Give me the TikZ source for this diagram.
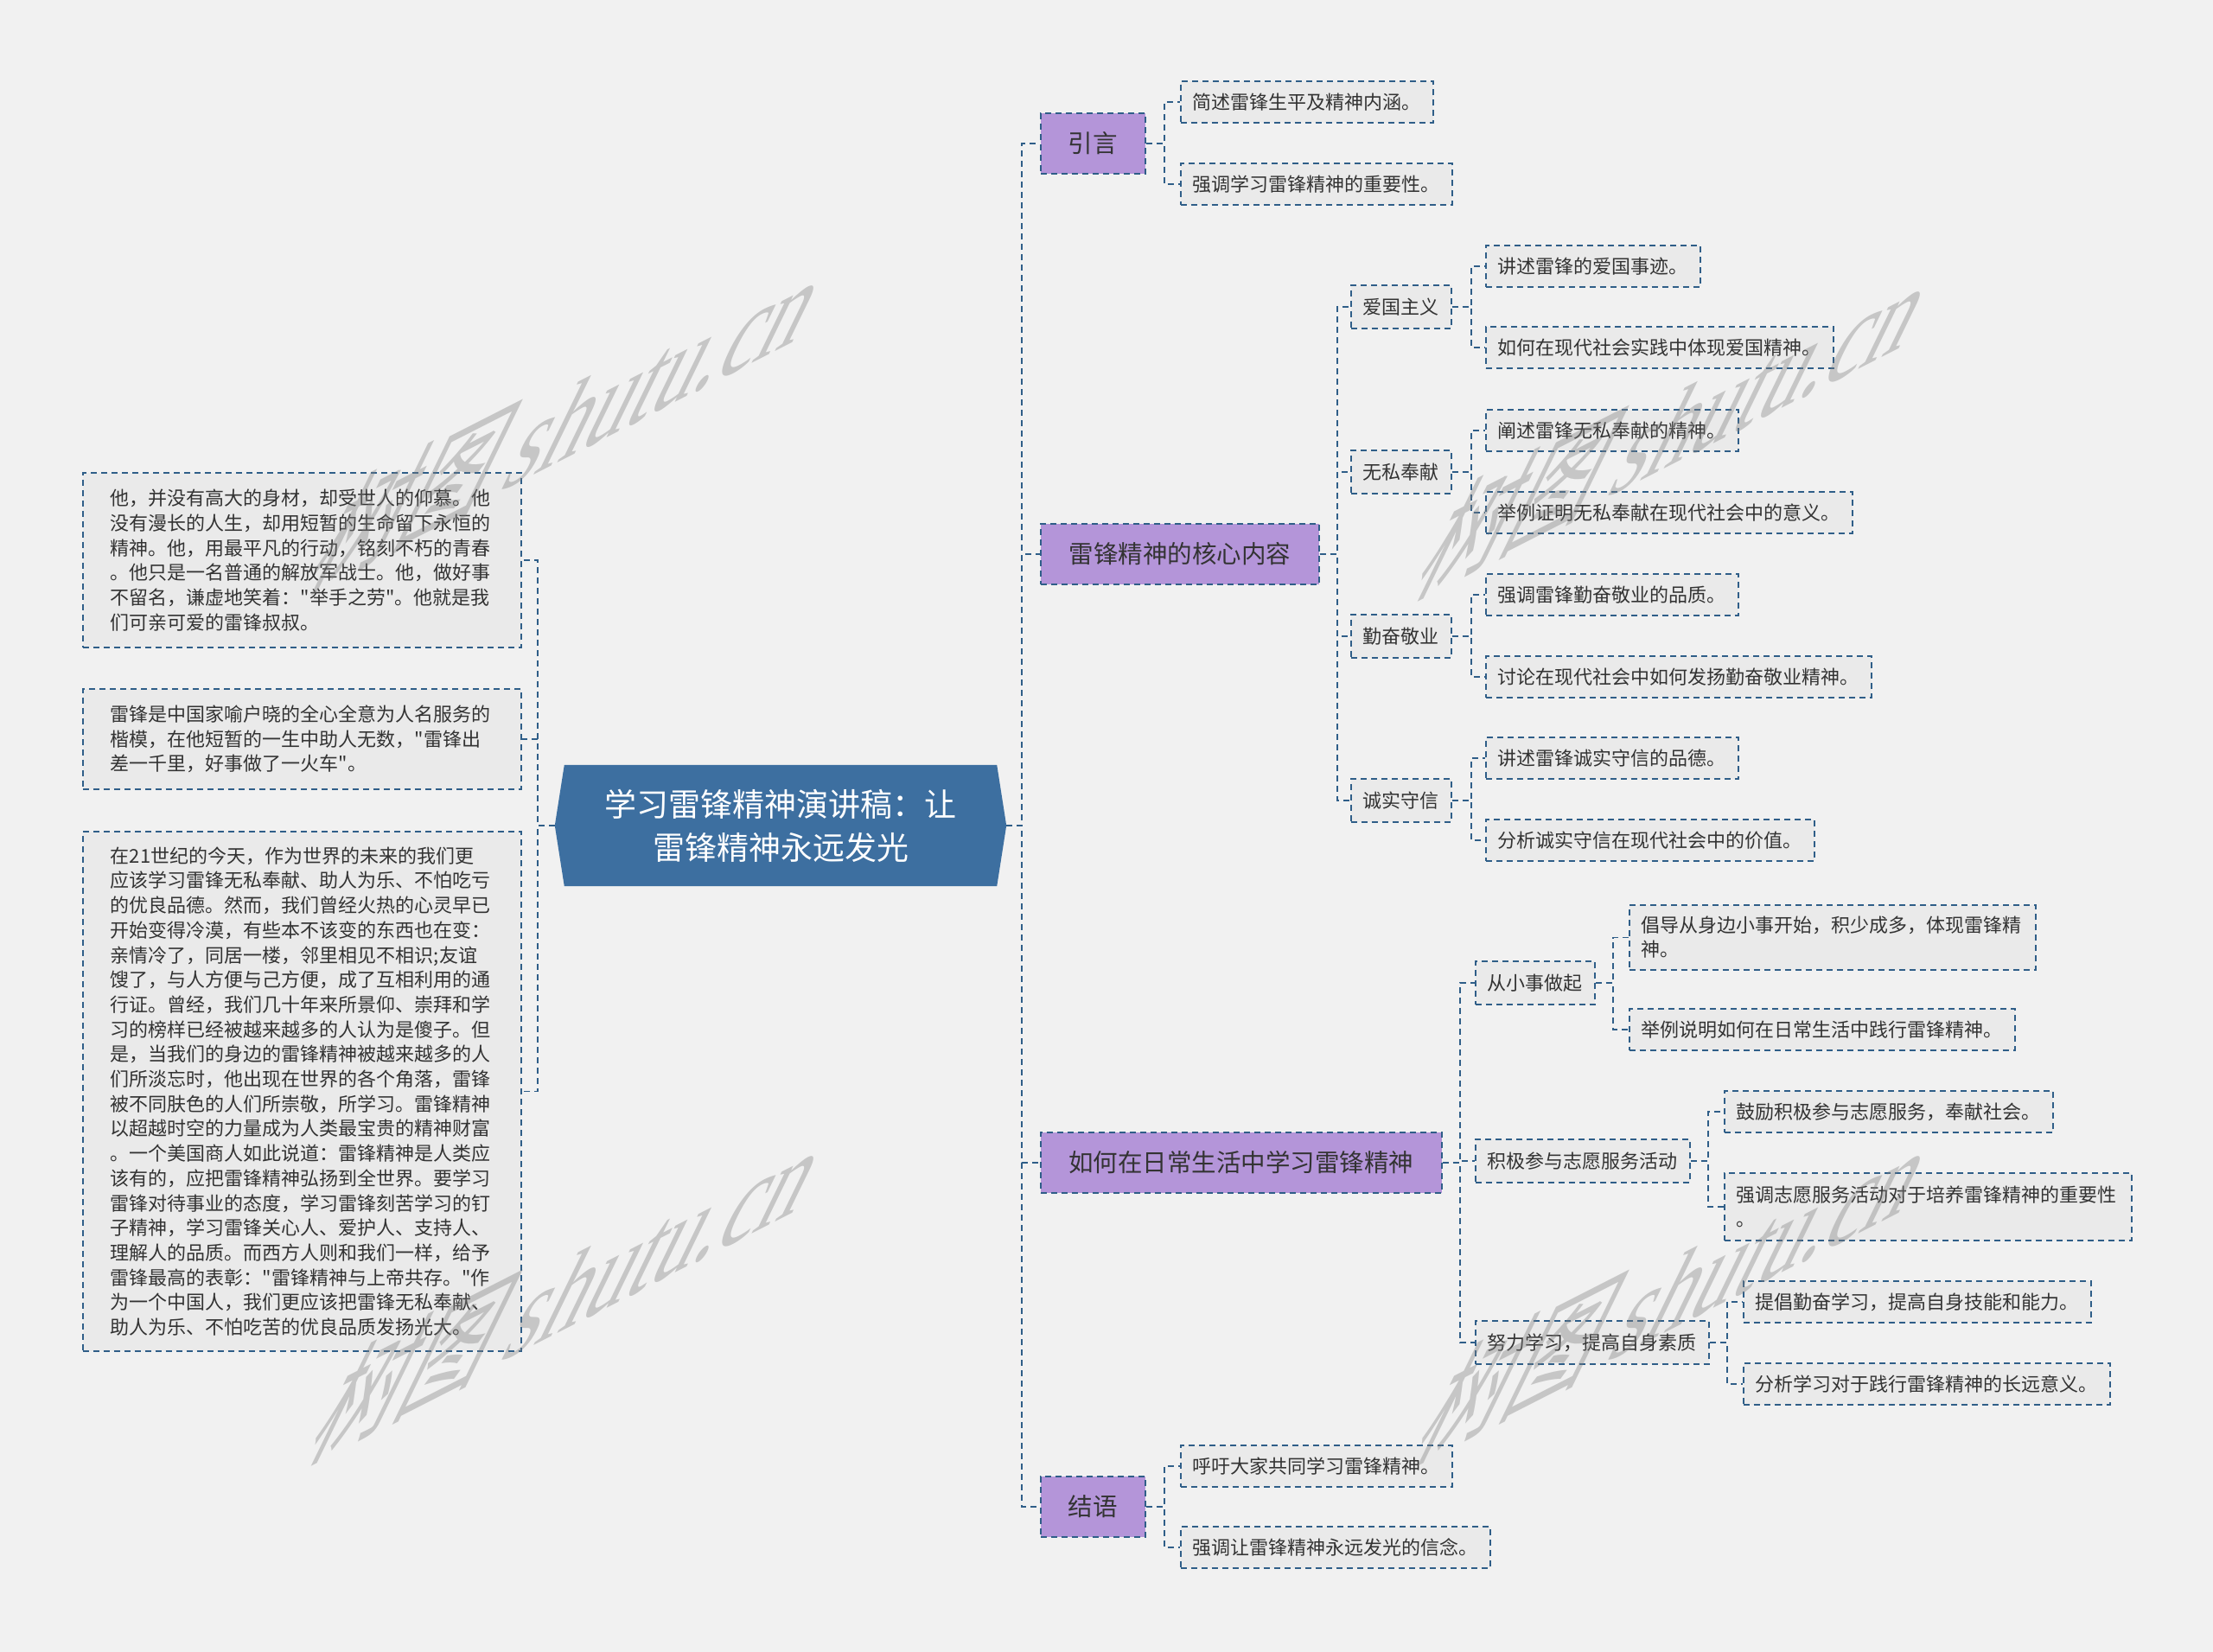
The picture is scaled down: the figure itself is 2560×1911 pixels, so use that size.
\documentclass[tikz,border=0pt]{standalone}
\usepackage{fontspec}
\newfontfamily\cjk{Noto Sans CJK SC}
\newfontfamily\wmfont{Liberation Serif}
\usetikzlibrary{calc,backgrounds}
\definecolor{bg}{HTML}{F1F1F1}
\definecolor{lc}{HTML}{2F5E88}
\definecolor{pur}{HTML}{B495D9}
\definecolor{leaf}{HTML}{EAEAEA}
\definecolor{ctr}{HTML}{3D6FA0}
\definecolor{tx}{HTML}{333333}
\begin{document}
\begin{tikzpicture}[x=1pt,y=-1pt,
  dsh/.style={draw=lc, line width=1.8pt, dash pattern=on 7pt off 5pt},
  conn/.style={dsh},
  topic/.style={dsh, fill=pur, text=tx, font=\cjk\fontsize{28.5}{34}\selectfont, inner sep=0pt, minimum height=70pt, anchor=west},
  sub/.style={dsh, fill=leaf, text=tx, font=\cjk\fontsize{22}{28}\selectfont, inner xsep=14pt, inner ysep=0pt, minimum height=50pt, anchor=west},
  leafbox/.style={dsh, fill=leaf, text=tx, font=\cjk\fontsize{22}{28}\selectfont, inner xsep=14pt, inner ysep=0pt, minimum height=48pt, anchor=west},
  para/.style={dsh, fill=leaf, text=tx, font=\cjk\fontsize{22}{28.7}\selectfont, inner xsep=32pt, inner ysep=0pt, text width=443pt, align=left, anchor=west},
  wm/.style={text=gray, opacity=0.38, anchor=base west, inner sep=0pt, cm={0.971,0.495,0.723,1.483,(0,0)}, font=\cjk\fontsize{105}{110}\selectfont}
]
\begin{pgfonlayer}{background}
\fill[bg] (0,0) rectangle (2560,1911);
\end{pgfonlayer}
\useasboundingbox (0,0) rectangle (2560,1911);

% centre
\node[minimum width=522pt, minimum height=140pt, text=white, font=\cjk\fontsize{37}{50}\selectfont, align=center, inner sep=0pt] (c) at (903,955) {学习雷锋精神演讲稿：让\\雷锋精神永远发光};
\begin{pgfonlayer}{background}
\fill[ctr] (c.west) -- ($(c.north west)+(11,0)$) -- ($(c.north east)+(-11,0)$) -- (c.east) -- ($(c.south east)+(-11,0)$) -- ($(c.south west)+(11,0)$) -- cycle;
\end{pgfonlayer}

% left paragraphs
\node[para, minimum height=202pt] (p1) at (95,648) {他，并没有高大的身材，却受世人的仰慕。他\\没有漫长的人生，却用短暂的生命留下永恒的\\精神。他，用最平凡的行动，铭刻不朽的青春\\。他只是一名普通的解放军战士。他，做好事\\不留名，谦虚地笑着："举手之劳"。他就是我\\们可亲可爱的雷锋叔叔。};
\node[para, minimum height=116pt] (p2) at (95,855) {雷锋是中国家喻户晓的全心全意为人名服务的\\楷模，在他短暂的一生中助人无数，"雷锋出\\差一千里，好事做了一火车"。};
\node[para, minimum height=601pt] (p3) at (95,1262.5) {在21世纪的今天，作为世界的未来的我们更\\应该学习雷锋无私奉献、助人为乐、不怕吃亏\\的优良品德。然而，我们曾经火热的心灵早已\\开始变得冷漠，有些本不该变的东西也在变：\\亲情冷了，同居一楼，邻里相见不相识;友谊\\馊了，与人方便与己方便，成了互相利用的通\\行证。曾经，我们几十年来所景仰、崇拜和学\\习的榜样已经被越来越多的人认为是傻子。但\\是，当我们的身边的雷锋精神被越来越多的人\\们所淡忘时，他出现在世界的各个角落，雷锋\\被不同肤色的人们所崇敬，所学习。雷锋精神\\以超越时空的力量成为人类最宝贵的精神财富\\。一个美国商人如此说道：雷锋精神是人类应\\该有的，应把雷锋精神弘扬到全世界。要学习\\雷锋对待事业的态度，学习雷锋刻苦学习的钉\\子精神，学习雷锋关心人、爱护人、支持人、\\理解人的品质。而西方人则和我们一样，给予\\雷锋最高的表彰："雷锋精神与上帝共存。"作\\为一个中国人，我们更应该把雷锋无私奉献、\\助人为乐、不怕吃苦的优良品质发扬光大。};

% topics
\node[topic, minimum width=121pt] (t1) at (1203,166) {引言};
\node[topic, minimum width=322pt] (t2) at (1203,641) {雷锋精神的核心内容};
\node[topic, minimum width=464pt] (t3) at (1203,1345) {如何在日常生活中学习雷锋精神};
\node[topic, minimum width=121pt] (t4) at (1203,1743) {结语};

% t1 leaves
\node[leafbox] (a1) at (1365,118) {简述雷锋生平及精神内涵。};
\node[leafbox] (a2) at (1365,213) {强调学习雷锋精神的重要性。};

% t2 subs
\node[sub] (s1) at (1562,355) {爱国主义};
\node[sub] (s2) at (1562,546) {无私奉献};
\node[sub] (s3) at (1562,736) {勤奋敬业};
\node[sub] (s4) at (1562,926) {诚实守信};
\node[leafbox] (b1) at (1718,308) {讲述雷锋的爱国事迹。};
\node[leafbox] (b2) at (1718,402) {如何在现代社会实践中体现爱国精神。};
\node[leafbox] (b3) at (1718,498) {阐述雷锋无私奉献的精神。};
\node[leafbox] (b4) at (1718,593) {举例证明无私奉献在现代社会中的意义。};
\node[leafbox] (b5) at (1718,688) {强调雷锋勤奋敬业的品质。};
\node[leafbox] (b6) at (1718,783) {讨论在现代社会中如何发扬勤奋敬业精神。};
\node[leafbox] (b7) at (1718,877) {讲述雷锋诚实守信的品德。};
\node[leafbox] (b8) at (1718,972) {分析诚实守信在现代社会中的价值。};

% t3 subs
\node[sub] (u1) at (1706,1137) {从小事做起};
\node[sub] (u2) at (1706,1343) {积极参与志愿服务活动};
\node[sub] (u3) at (1706,1553) {努力学习，提高自身素质};
\node[leafbox, text width=442pt, align=left, minimum height=75pt] (d1) at (1884,1084.5) {倡导从身边小事开始，积少成多，体现雷锋精\\神。};
\node[leafbox] (d2) at (1884,1191) {举例说明如何在日常生活中践行雷锋精神。};
\node[leafbox] (d3) at (1994,1286) {鼓励积极参与志愿服务，奉献社会。};
\node[leafbox, text width=443pt, align=left, minimum height=78pt] (d4) at (1994,1396) {强调志愿服务活动对于培养雷锋精神的重要性\\。};
\node[leafbox] (d5) at (2016,1506) {提倡勤奋学习，提高自身技能和能力。};
\node[leafbox] (d6) at (2016,1601) {分析学习对于践行雷锋精神的长远意义。};

% t4 leaves
\node[leafbox] (e1) at (1365,1696) {呼吁大家共同学习雷锋精神。};
\node[leafbox] (e2) at (1365,1790) {强调让雷锋精神永远发光的信念。};

% connectors
\foreach \t in {t1,t2,t3,t4} \draw[conn] (c.east) -- ++(18,0) |- (\t.west);
\foreach \p in {p1,p2,p3} \draw[conn] (c.west) -- ++(-20,0) |- (\p.east);
\foreach \l in {a1,a2} \draw[conn] (t1.east) -- ++(21,0) |- (\l.west);
\foreach \l in {s1,s2,s3,s4} \draw[conn] (t2.east) -- ++(20,0) |- (\l.west);
\foreach \l in {b1,b2} \draw[conn] (s1.east) -- ++(22,0) |- (\l.west);
\foreach \l in {b3,b4} \draw[conn] (s2.east) -- ++(22,0) |- (\l.west);
\foreach \l in {b5,b6} \draw[conn] (s3.east) -- ++(22,0) |- (\l.west);
\foreach \l in {b7,b8} \draw[conn] (s4.east) -- ++(22,0) |- (\l.west);
\foreach \l in {u1,u2,u3} \draw[conn] (t3.east) -- ++(20,0) |- (\l.west);
\foreach \l in {d1,d2} \draw[conn] (u1.east) -- ++(20,0) |- (\l.west);
\foreach \l in {d3,d4} \draw[conn] (u2.east) -- ++(20,0) |- (\l.west);
\foreach \l in {d5,d6} \draw[conn] (u3.east) -- ++(20,0) |- (\l.west);
\foreach \l in {e1,e2} \draw[conn] (t4.east) -- ++(21,0) |- (\l.west);

% watermarks
\node[wm] (w1) at (349,686) {树图 {\wmfont shutu.cn}};
\node[wm] (w2) at (1629,693) {树图 {\wmfont shutu.cn}};
\node[wm] (w3) at (349,1693) {树图 {\wmfont shutu.cn}};
\node[wm] (w4) at (1629,1693) {树图 {\wmfont shutu.cn}};
\end{tikzpicture}
\end{document}
